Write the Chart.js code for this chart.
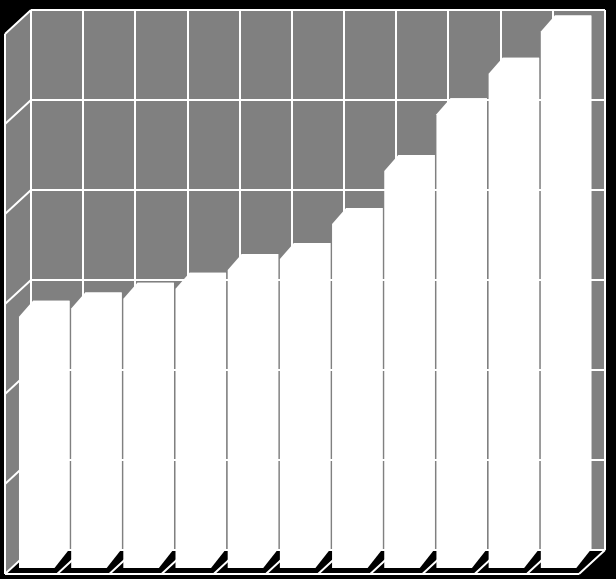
<!DOCTYPE html>
<html>
<head>
<meta charset="utf-8">
<script src="https://cdn.jsdelivr.net/npm/chart.js@4/dist/chart.umd.min.js"></script>
<style>
    html, body { margin: 0; padding: 0; background: #000; }
    canvas { display: block; }
</style>
</head>
<body>
<canvas id="chart" width="616" height="579"></canvas>
<script>
const categories = ["1", "2", "3", "4", "5", "6", "7", "8", "9", "10", "11"];
const values = [27.7, 28.6, 29.7, 30.8, 32.9, 34.1, 38.0, 43.9, 50.2, 54.7, 59.4];
const yTicks = [0, 10, 20, 30, 40, 50, 60];

const WALL_GRAY = "#808080";
const LINE = "#ffffff";

// depth of the side wall / floor, and of the bars
const WALL_DX = 26, WALL_DY = 24;
const TOP_DX = 14, TOP_DY = 16, BOT_DX = 15, BOT_DY = 19;
const BAR_SHIFT = -5.85;

const walls = {
    id: "walls",
    beforeDraw(chart) {
        const ctx = chart.ctx;
        const a = chart.chartArea;
        const y = chart.scales.y;

        ctx.save();
        ctx.fillStyle = "#000";
        ctx.fillRect(0, 0, chart.width, chart.height);

        // back wall
        ctx.fillStyle = WALL_GRAY;
        ctx.fillRect(a.left, a.top, a.right - a.left, a.bottom - a.top);

        // left wall
        ctx.beginPath();
        ctx.moveTo(a.left, a.top);
        ctx.lineTo(a.left, a.bottom);
        ctx.lineTo(a.left - WALL_DX, a.bottom + WALL_DY);
        ctx.lineTo(a.left - WALL_DX, a.top + WALL_DY);
        ctx.closePath();
        ctx.fill();

        ctx.strokeStyle = LINE;
        ctx.lineWidth = 2;
        ctx.beginPath();
        yTicks.forEach(t => {
            const py = y.getPixelForValue(t);
            ctx.moveTo(a.left, py);
            ctx.lineTo(a.left - WALL_DX, py + WALL_DY);
        });
        ctx.moveTo(a.left - WALL_DX, a.top + WALL_DY);
        ctx.lineTo(a.left - WALL_DX, a.bottom + WALL_DY);

        // floor
        const step = (a.right - a.left) / categories.length;
        for (let i = 0; i <= categories.length; i++) {
            const bx = a.left + i * step;
            ctx.moveTo(bx, a.bottom);
            ctx.lineTo(bx - WALL_DX, a.bottom + WALL_DY);
        }
        ctx.moveTo(a.left - WALL_DX, a.bottom + WALL_DY);
        ctx.lineTo(a.right - WALL_DX, a.bottom + WALL_DY);
        ctx.stroke();
        ctx.restore();
    }
};

const prisms = {
    id: "prisms",
    beforeDatasetsDraw(chart) {
        chart.ctx.save();
        chart.ctx.translate(BAR_SHIFT, 0);
    },
    afterDatasetsDraw(chart) {
        const ctx = chart.ctx;
        ctx.fillStyle = "#ffffff";
        chart.getDatasetMeta(0).data.forEach(bar => {
            const p = bar.getProps(["x", "y", "base", "width"], true);
            const l = p.x - p.width / 2;
            const r = p.x + p.width / 2;
            ctx.beginPath();
            ctx.moveTo(l - TOP_DX, p.y + TOP_DY);
            ctx.lineTo(l, p.y);
            ctx.lineTo(r, p.y);
            ctx.lineTo(r, p.base);
            ctx.lineTo(r - BOT_DX, p.base + BOT_DY);
            ctx.lineTo(l - TOP_DX, p.base + BOT_DY);
            ctx.closePath();
            ctx.fill();
        });
        ctx.restore();
    }
};

new Chart(document.getElementById("chart").getContext("2d"), {
    type: "bar",
    data: {
        labels: categories,
        datasets: [{
            data: values,
            backgroundColor: "#ffffff",
            borderWidth: 0,
            barPercentage: 0.7,
            categoryPercentage: 1,
            clip: false
        }]
    },
    options: {
        responsive: false,
        devicePixelRatio: 1,
        animation: false,
        layout: {
            padding: { left: 31, top: 10, right: 11, bottom: 29 }
        },
        plugins: {
            legend: { display: false },
            tooltip: { enabled: false }
        },
        scales: {
            x: {
                ticks: { display: false },
                border: { display: false },
                grid: { color: LINE, lineWidth: 2, drawTicks: false, offset: true },
                afterFit: s => { s.height = 0; }
            },
            y: {
                min: 0,
                max: 60,
                ticks: { display: false, stepSize: 10 },
                border: { display: false },
                grid: { color: LINE, lineWidth: 2, drawTicks: false },
                afterFit: s => { s.width = 0; }
            }
        }
    },
    plugins: [walls, prisms]
});
</script>
</body>
</html>
